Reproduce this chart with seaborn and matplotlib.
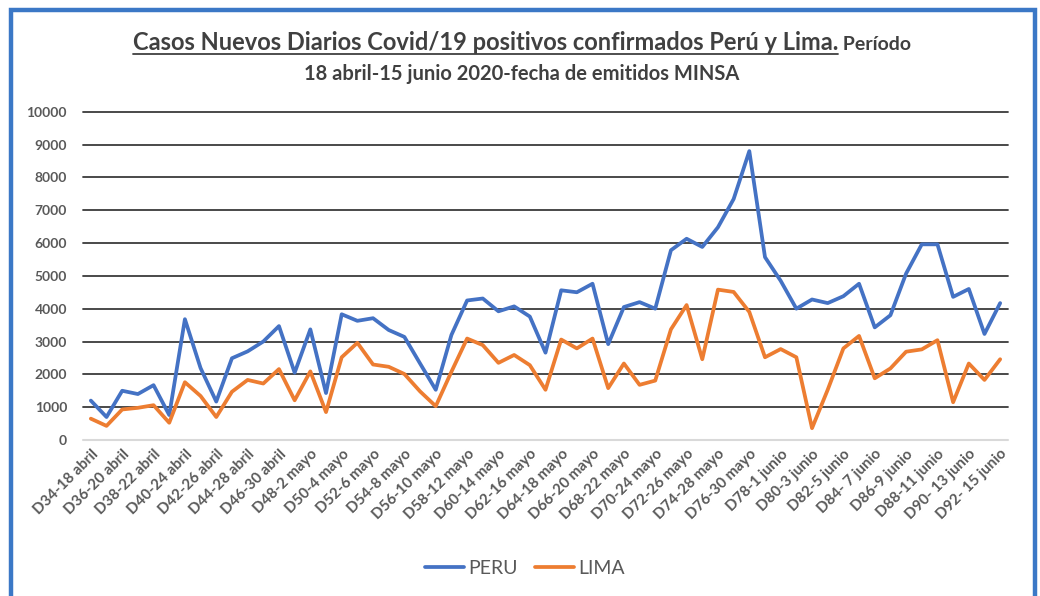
import pandas as pd
import matplotlib
matplotlib.use('Agg')
import matplotlib.pyplot as plt
import seaborn as sns
from matplotlib.patches import Rectangle
from matplotlib.lines import Line2D

# Casos nuevos diarios (D34 .. D92)
peru = [1200, 700, 1500, 1400, 1670, 760, 3680, 2190, 1170, 2490, 2700, 3000, 3470, 2050, 3370, 1430,
        3830, 3630, 3710, 3350, 3140, 2330, 1530, 3200, 4250, 4310, 3920, 4070, 3760, 2660,
        4560, 4500, 4760, 2920, 4050, 4200, 4000, 5780, 6130, 5880, 6480, 7340, 8800, 5570, 4850,
        4000, 4280, 4170, 4380, 4760, 3430, 3800, 5070, 5960, 5960, 4360, 4600, 3230, 4170]
lima = [650, 430, 930, 980, 1060, 525, 1760, 1340, 700, 1470, 1830, 1720, 2160, 1210, 2090, 850,
        2520, 2960, 2300, 2230, 2010, 1480, 1030, 2080, 3090, 2890, 2350, 2590, 2280, 1530,
        3060, 2790, 3090, 1580, 2330, 1680, 1810, 3370, 4110, 2460, 4580, 4510, 3900, 2520, 2770,
        2520, 360, 1530, 2790, 3170, 1880, 2180, 2690, 2760, 3040, 1150, 2330, 1830, 2460]

tick_labels = ['D34-18 abril', 'D36-20 abril', 'D38-22 abril', 'D40-24 abril', 'D42-26 abril',
               'D44-28 abril', 'D46-30 abril', 'D48-2 mayo', 'D50-4 mayo', 'D52-6 mayo',
               'D54-8 mayo', 'D56-10 mayo', 'D58-12 mayo', 'D60-14 mayo', 'D62-16 mayo',
               'D64-18 mayo', 'D66-20 mayo', 'D68-22 mayo', 'D70-24 mayo', 'D72-26 mayo',
               'D74-28 mayo', 'D76-30 mayo', 'D78-1 junio', 'D80-3 junio', 'D82-5 junio',
               'D84- 7 junio', 'D86-9 junio', 'D88-11 junio', 'D90- 13 junio', 'D92- 15 junio']

colors = {'PERU': '#4472C4', 'LIMA': '#ED7D31'}
gray = '#595959'

df = pd.DataFrame({'pos': range(len(peru)), 'PERU': peru, 'LIMA': lima})
df_long = df.melt(id_vars='pos', var_name='serie', value_name='casos')

sns.set_style('white')
plt.rcParams['font.family'] = ['Lato', 'DejaVu Sans']

W, H = 1040, 596
fig = plt.figure(figsize=(W / 100, H / 100), dpi=100)
ax = fig.add_axes([83 / W, 1 - 440 / H, 925 / W, 328.3 / H])

sns.lineplot(data=df_long, x='pos', y='casos', hue='serie', palette=colors,
             linewidth=2.7, ax=ax, legend=False)

ax.set_xlim(-0.5, len(peru) - 0.5)
ax.set_ylim(0, 10000)
ax.set_yticks(range(0, 10001, 1000))
ax.set_xticks(range(0, len(peru), 2))
ax.set_xticklabels(tick_labels, rotation=45, ha='right', rotation_mode='anchor')
ax.set_xlabel('')
ax.set_ylabel('')
ax.tick_params(axis='y', length=0, pad=11.5, labelsize=10, labelcolor=gray)
ax.tick_params(axis='x', length=0, pad=5, labelsize=10.8, labelcolor=gray)
for lab in ax.get_yticklabels() + ax.get_xticklabels():
    lab.set_fontweight('bold')

ax.yaxis.grid(True, color='#3a3a3a', linewidth=1.3)
ax.set_axisbelow(True)
for gl in ax.get_ygridlines():
    gl.set_clip_on(False)
ax.get_ygridlines()[0].set_color('#d9d9d9')
ax.get_ygridlines()[0].set_linewidth(1.5)
sns.despine(ax=ax, left=True, bottom=True)

# legend
handles = [Line2D([], [], color=colors[s], linewidth=2.7) for s in ['PERU', 'LIMA']]
fig.legend(handles, ['PERU', 'LIMA'], loc='center', bbox_to_anchor=(525 / W, 1 - 568 / H),
           ncol=2, frameon=False, fontsize=14, labelcolor=gray,
           handlelength=2.0, handletextpad=0.2, columnspacing=0.9)

# title with underlined first part
tcolor = '#404040'
t1 = fig.text(0, 1 - 50 / H, 'Casos Nuevos Diarios Covid/19 positivos confirmados Perú y Lima.',
              fontsize=17, fontweight='bold', color=tcolor, va='baseline')
t2 = fig.text(0, 1 - 50 / H, ' Período', fontsize=14, fontweight='bold', color=tcolor,
              va='baseline')
fig.text(522 / W, 1 - 80 / H, '18 abril-15 junio 2020-fecha de emitidos MINSA',
         fontsize=14.5, fontweight='bold', color=tcolor, ha='center', va='baseline')

fig.canvas.draw()
r = fig.canvas.get_renderer()
w1 = t1.get_window_extent(r).width
w2 = t2.get_window_extent(r).width
x0 = 522 - (w1 + w2) / 2
t1.set_x(x0 / W)
t2.set_x((x0 + w1) / W)
fig.canvas.draw()
bb = t1.get_window_extent(r)
fig.add_artist(Line2D([bb.x0 / W, bb.x1 / W], [1 - 54 / H] * 2, color=tcolor,
                      linewidth=1.3, transform=fig.transFigure))

# blue frame (bottom edge is cut off)
fig.add_artist(Rectangle((10.5 / W, -0.1), 1024 / W, 1.1 - 10 / H, fill=False,
                         edgecolor='#3b78c6', linewidth=3.2, transform=fig.transFigure,
                         clip_on=False))

fig.savefig('out.png', dpi=100, facecolor='white')
